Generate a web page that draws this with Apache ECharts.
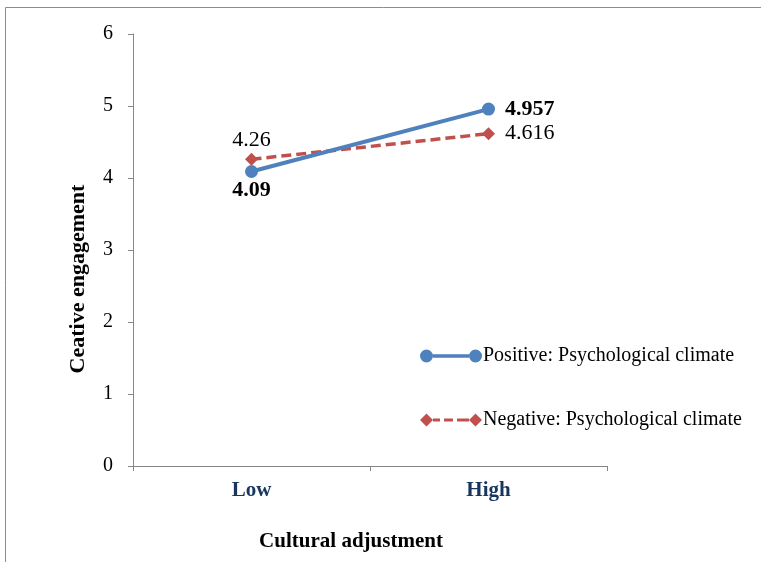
<!DOCTYPE html>
<html><head><meta charset="utf-8">
<script src="https://cdn.jsdelivr.net/npm/echarts@6/dist/echarts.min.js"></script>
<style>html,body{margin:0;padding:0;background:#fff}#c{width:761px;height:562px}</style>
</head><body><div id="c"></div>
<script>
var categories = ['Low', 'High'];
var positiveValues = [4.09, 4.957];
var negativeValues = [4.26, 4.616];
var yTicks = [0, 1, 2, 3, 4, 5, 6];
var seriesNames = ['Positive: Psychological climate', 'Negative: Psychological climate'];

var font = 'Liberation Serif';
var chart = echarts.init(document.getElementById('c'));
var circleIcon = 'path://M0,6.5a6.5,6.5 0 1,0 13,0a6.5,6.5 0 1,0 -13,0ZM13,4.8H49V8.2H13ZM49,6.5a6.5,6.5 0 1,0 13,0a6.5,6.5 0 1,0 -13,0Z';
var diamondIcon = 'path://M0,6.5L6.5,0L13,6.5L6.5,13ZM13,5H20V8H13ZM24,5H33V8H24ZM37,5H49V8H37ZM49,6.5L55.5,0L62,6.5L55.5,13Z';
chart.setOption({
  animation: false,
  graphic: [{type: 'rect', shape: {x: 5.5, y: 7.5, width: 800, height: 600}, style: {fill: 'none', stroke: '#8c8c8c', lineWidth: 1}, silent: true}],
  grid: {left: 133, right: 154, top: 34, bottom: 96},
  legend: [
    {data: [{name: seriesNames[0], icon: circleIcon}], left: 415, top: 341, itemWidth: 62, itemHeight: 13, itemGap: 0,
     itemStyle: {borderWidth: 0}, textStyle: {fontFamily: font, fontSize: 20, color: '#000', padding: [0, 0, 0, -4]}},
    {data: [{name: seriesNames[1], icon: diamondIcon}], left: 415, top: 405, itemWidth: 62, itemHeight: 13, itemGap: 0,
     itemStyle: {borderWidth: 0}, textStyle: {fontFamily: font, fontSize: 20, color: '#000', padding: [0, 0, 0, -4]}}
  ],
  xAxis: {
    type: 'category', data: categories, boundaryGap: true,
    name: 'Cultural adjustment', nameLocation: 'middle', nameGap: 65,
    nameTextStyle: {fontFamily: font, fontSize: 21, fontWeight: 'bold', color: '#000', padding: [0, 38, 0, 0]},
    axisLine: {lineStyle: {color: '#868686', width: 1}},
    axisTick: {show: true, length: 5, alignWithLabel: false, lineStyle: {color: '#868686'}},
    axisLabel: {fontFamily: font, fontSize: 21, fontWeight: 'bold', color: '#17365D', margin: 14}
  },
  yAxis: {
    type: 'value', min: yTicks[0], max: yTicks[yTicks.length - 1], interval: 1,
    name: 'Ceative engagement', nameLocation: 'middle', nameGap: 44,
    nameTextStyle: {fontFamily: font, fontSize: 22, fontWeight: 'bold', color: '#000', padding: [0, 58, 0, 0]},
    axisLine: {show: true, lineStyle: {color: '#868686', width: 1}},
    axisTick: {show: true, length: 5, lineStyle: {color: '#868686'}},
    splitLine: {show: false},
    axisLabel: {fontFamily: font, fontSize: 20, color: '#000', margin: 20}
  },
  series: [
    {
      name: seriesNames[0], type: 'line',
      symbol: 'circle', symbolSize: 13, color: '#4F81BD',
      lineStyle: {width: 4, color: '#4F81BD'},
      itemStyle: {color: '#4F81BD'},
      label: {show: true, fontFamily: font, fontSize: 22, fontWeight: 'bold', color: '#000'},
      data: [
        {value: positiveValues[0], label: {position: 'bottom', distance: 1}},
        {value: positiveValues[1], label: {position: 'right', distance: 10}}
      ],
      z: 3
    },
    {
      name: seriesNames[1], type: 'line',
      symbol: 'diamond', symbolSize: 13, color: '#C0504D',
      lineStyle: {width: 3.5, color: '#C0504D', type: [10, 5]},
      itemStyle: {color: '#C0504D'},
      label: {show: true, fontFamily: font, fontSize: 22, color: '#000'},
      data: [
        {value: negativeValues[0], label: {position: 'top', distance: 2}},
        {value: negativeValues[1], label: {position: 'right', distance: 10}}
      ],
      z: 2
    }
  ]
});
</script></body></html>
